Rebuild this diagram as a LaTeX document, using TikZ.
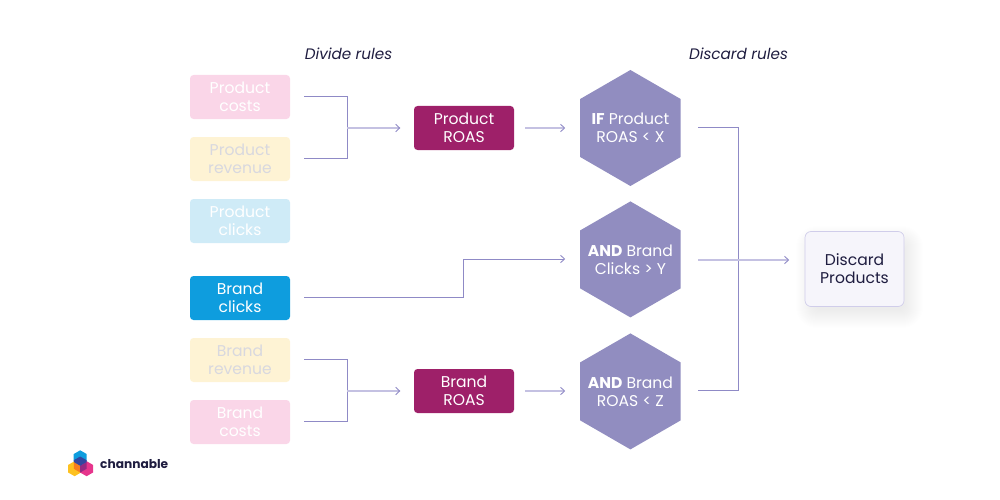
\documentclass[tikz,border=0pt]{standalone}
\usepackage{fontspec}
\setmainfont{Poppins}
\usetikzlibrary{arrows.meta,shapes.geometric,calc}
\definecolor{wire}{HTML}{8F8AC6}
\definecolor{softwire}{HTML}{C4C1E2}
\definecolor{hexfill}{HTML}{918DC0}
\definecolor{roas}{HTML}{9E2069}
\definecolor{ink}{HTML}{1F1D40}
\definecolor{softpink}{RGB}{250,214,232}
\definecolor{softyellow}{RGB}{254,243,212}
\definecolor{softblue}{RGB}{207,235,247}
\definecolor{softgrey}{RGB}{216,216,223}
\definecolor{brandblue}{RGB}{14,157,222}
\definecolor{panel}{RGB}{246,245,251}
\definecolor{panelline}{RGB}{208,205,234}
\definecolor{logoyellow}{RGB}{253,193,32}
\definecolor{logopink}{RGB}{230,53,140}
\definecolor{logoorange}{RGB}{245,125,30}
\definecolor{logonavy}{RGB}{50,70,160}
\definecolor{logoplum}{RGB}{150,40,130}
\newcommand{\bodyfont}{\fontsize{15.6pt}{18pt}\selectfont}
\tikzset{
  x=1pt,y=-1pt,
  basebox/.style={rectangle,rounded corners=3.5pt,minimum width=100pt,minimum height=44pt,inner sep=0pt,
    align=center,text width=100pt,font=\bodyfont},
  pinkbox/.style={basebox,fill=softpink,text=white},
  yellowbox/.style={basebox,fill=softyellow,text=softgrey},
  bluebox/.style={basebox,fill=softblue,text=white},
  brandbox/.style={basebox,fill=brandblue,text=white},
  roasbox/.style={basebox,fill=roas,text=white},
  hexbox/.style={regular polygon,regular polygon sides=6,regular polygon rotate=30,minimum size=116pt,
    inner sep=0pt,outer sep=0pt,fill=hexfill},
  hextext/.style={text=white,align=center,font=\bodyfont,inner sep=0pt},
  wireline/.style={draw=wire,line width=0.8pt},
  tip/.style={-{Straight Barb[length=4pt,width=7.5pt,line width=0.9pt,color=wire]}},
  arrowline/.style={draw=softwire,line width=1.3pt,tip},
  heading/.style={font=\fontsize{15.2pt}{18pt}\selectfont\itshape,text=ink},
  logohex/.style={regular polygon,regular polygon sides=6,regular polygon rotate=30,minimum size=15pt,inner sep=0pt,outer sep=0pt}
}
\begin{document}
\begin{tikzpicture}
\useasboundingbox (0,0) rectangle (1000,500);
% source columns
\node[pinkbox]   (pcost) at (240,97)  {Product\\costs};
\node[yellowbox] (prev)  at (240,159) {Product\\revenue};
\node[bluebox]   (pclk)  at (240,221) {Product\\clicks};
\node[brandbox]  (bclk)  at (240,298) {Brand\\clicks};
\node[yellowbox] (brev)  at (240,360) {Brand\\revenue};
\node[pinkbox]   (bcost) at (240,422) {Brand\\costs};
% computed ratios
\node[roasbox] (proas) at (464,128) {Product\\ROAS};
\node[roasbox] (broas) at (464,391) {Brand\\ROAS};
% discard conditions
\node[hexbox,label={[hextext]center:{\textbf{IF} Product\\ROAS < X}}] (h1) at (630.4,128) {};
\node[hexbox,label={[hextext]center:{\textbf{AND} Brand\\Clicks > Y}}] (h2) at (630.4,259.4) {};
\node[hexbox,label={[hextext]center:{\textbf{AND} Brand\\ROAS < Z}}] (h3) at (630.4,391.4) {};
% result with soft shadow
\foreach \g in {14,13,...,-4}{
  \fill[black,opacity=0.0055,rounded corners={7pt+max(\g,0)*1pt}] (805-\g+5,232-\g+8) rectangle (904+\g+5,306+\g+8);
}
\node[rectangle,rounded corners=6pt,minimum width=99pt,minimum height=75pt,inner sep=0pt,fill=panel,
  draw=panelline,line width=0.7pt,text=ink,align=center,font=\bodyfont]
  (disc) at (854.5,269) {Discard\\Products};
% headings
\node[heading] (hd1) at (348.5,54) {Divide rules};
\node[heading] (hd2) at (738.5,54) {Discard rules};
% divide brackets
\coordinate (a1) at ($(pcost.east)+(14,-0.3)$);
\coordinate (a2) at ($(prev.east)+(14,-0.7)$);
\coordinate (a3) at (347.4,128);
\draw[wireline] (a1) -| (a3) |- (a2);
\draw[arrowline] (a3) -- ($(proas.west)+(-13.5,0)$);
\coordinate (b1) at ($(brev.east)+(14,-0.7)$);
\coordinate (b2) at ($(bcost.east)+(14,-0.7)$);
\coordinate (b3) at (347.4,391);
\draw[wireline] (b1) -| (b3) |- (b2);
\draw[arrowline] (b3) -- ($(broas.west)+(-13.5,0)$);
% ratios into conditions
\draw[arrowline] ($(proas.east)+(11,0)$) -- ($(h1.west)+(-15,0)$);
\draw[arrowline] ($(broas.east)+(11,0)$) -- ($(h3.west)+(-15,-0.4)$);
% brand clicks route
\draw[wireline,tip] ($(bclk.east)+(14,-0.7)$) -| (463.4,259) -- ($(h2.west)+(-15,-0.4)$);
% conditions into result
\coordinate (c1) at ($(h1.east)+(17.5,-0.5)$);
\coordinate (c3) at ($(h3.east)+(17.5,-1.4)$);
\draw[wireline] (c1) -| (738.4,390) -- (c3);
\draw[arrowline] ($(h2.east)+(17.5,0.6)$) -- ($(disc.west)+(-15.5,-9)$);
% logo
\node[logohex,fill=brandblue] (lb) at (80.2,457.8) {};
\node[logohex,fill=logoyellow] (ly) at (74.6,468.7) {};
\node[logohex,fill=logopink] (lp) at (86.6,468.7) {};
\fill[logoorange] (73.8,462) -- (80.2,465.8) -- (80.2,472.5) -- (73.8,468.8) -- cycle;
\fill[logoplum] (86.6,462) -- (80.2,465.8) -- (80.2,472.5) -- (86.6,468.8) -- cycle;
\fill[logonavy] (80.2,456.5) -- (86.6,460.2) -- (86.6,462) -- (80.2,465.8) -- (73.8,462) -- (73.8,460.2) -- cycle;
\node[font=\fontsize{12.2pt}{15pt}\selectfont\bfseries,text=ink,anchor=west,inner sep=0pt] (brandname) at (100,464) {channable};
\end{tikzpicture}
\end{document}
